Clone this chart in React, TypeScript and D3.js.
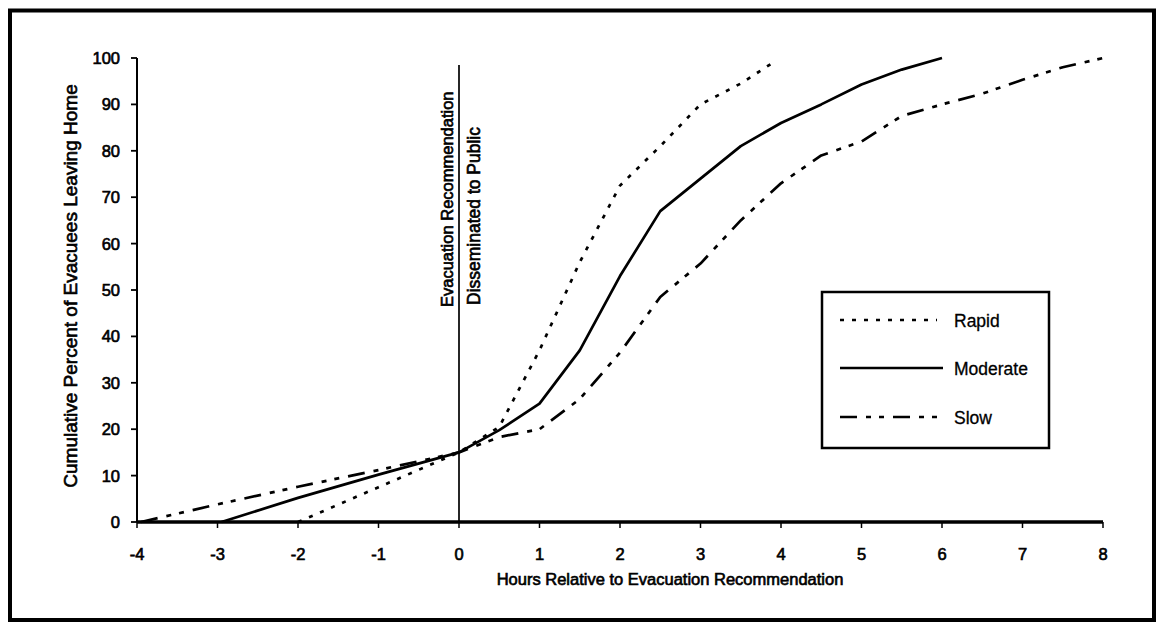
import React from "react";
import * as d3 from "d3";

const xTicks = [-4, -3, -2, -1, 0, 1, 2, 3, 4, 5, 6, 7, 8];
const yTicks = [0, 10, 20, 30, 40, 50, 60, 70, 80, 90, 100];

const rapidHours = [-2, -1, 0, 0.5, 1, 1.5, 2, 2.5, 3, 3.5, 3.9];
const rapidValues = [0, 7.5, 15, 20.5, 37, 56, 72.5, 81, 90, 94.5, 99];

const moderateHours = [-2.95, -2, -1, 0, 0.5, 1, 1.5, 2, 2.5, 3, 3.5, 4, 4.5, 5, 5.5, 6];
const moderateValues = [0, 5.2, 10.2, 15, 19.8, 25.5, 37, 53, 67, 74, 81, 86, 90, 94.3, 97.5, 100];

const slowHours = [-3.95, -3, -2, -1, 0, 0.5, 1, 1.5, 2, 2.5, 3, 3.5, 4, 4.5, 5, 5.5, 6, 6.5, 7, 7.5, 8];
const slowValues = [0, 3.8, 7.6, 11.2, 15, 18.3, 20, 26.5, 36.5, 48.5, 55.7, 65, 73, 79, 82, 87.5, 90, 92.3, 95.3, 98, 100];

const seriesNames = ["Rapid", "Moderate", "Slow"];
const xTitle = "Hours Relative to Evacuation Recommendation";
const yTitle = "Cumulative Percent of Evacuees Leaving Home";
const noteLine1 = "Evacuation Recommendation";
const noteLine2 = "Disseminated to Public";

const W = 1158;
const H = 622;
const FONT = "'Liberation Sans', Arial, Helvetica, sans-serif";

const dashes: Record<string, string | undefined> = {
  Rapid: "4 8",
  Moderate: undefined,
  Slow: "17 9 5 8 5 9",
};

export default function App() {
  const x = d3.scaleLinear().domain([-4, 8]).range([137, 1103]);
  const y = d3.scaleLinear().domain([0, 100]).range([522, 58]);
  const line = d3
    .line<[number, number]>()
    .x((d) => x(d[0]))
    .y((d) => y(d[1]));

  const zip = (hs: number[], vs: number[]) => hs.map((h, i) => [h, vs[i]] as [number, number]);
  const series = [
    { name: "Rapid", data: zip(rapidHours, rapidValues) },
    { name: "Moderate", data: zip(moderateHours, moderateValues) },
    { name: "Slow", data: zip(slowHours, slowValues) },
  ];

  const textStyle = { fontFamily: FONT, fill: "#000", stroke: "#000", strokeWidth: 0.65 };

  const legendX = 822;
  const legendY = 292;
  const legendRows = [320, 368, 417];

  return (
    <svg
      width={W}
      height={H}
      viewBox={`0 0 ${W} ${H}`}
      style={{ position: "absolute", left: 0, top: 0, background: "#fff" }}
    >
      <rect x={0} y={0} width={W} height={H} fill="#fff" />
      {/* outer frame */}
      <rect x={10} y={10.5} width={1144} height={609.5} fill="none" stroke="#000" strokeWidth={4} />

      {/* curves */}
      {series.map((s) => (
        <path
          key={s.name}
          d={line(s.data) || ""}
          fill="none"
          stroke="#000"
          strokeWidth={2.7}
          strokeDasharray={dashes[s.name]}
          strokeLinecap="butt"
          strokeLinejoin="round"
        />
      ))}

      {/* vertical recommendation line */}
      <line x1={x(0)} x2={x(0)} y1={y(98.5)} y2={y(0)} stroke="#000" strokeWidth={1.7} />
      <text transform={`translate(453,307) rotate(-90)`} fontSize={16.5} style={textStyle}>
        {noteLine1}
      </text>
      <text transform={`translate(480,305) rotate(-90)`} fontSize={17.5} style={textStyle}>
        {noteLine2}
      </text>

      {/* y axis */}
      <line x1={x(-4)} x2={x(-4)} y1={y(100)} y2={y(0)} stroke="#000" strokeWidth={2} />
      {yTicks.map((t) => (
        <g key={`y${t}`}>
          <line x1={x(-4) - 6} x2={x(-4)} y1={y(t)} y2={y(t)} stroke="#000" strokeWidth={1.8} />
          <text x={120} y={y(t) + 6} textAnchor="end" fontSize={16.5} style={textStyle}>
            {t}
          </text>
        </g>
      ))}

      {/* x axis */}
      <line x1={x(-4)} x2={x(8)} y1={y(0)} y2={y(0)} stroke="#000" strokeWidth={3.5} />
      {xTicks.map((t) => (
        <g key={`x${t}`}>
          <line x1={x(t)} x2={x(t)} y1={y(0)} y2={y(0) + 6} stroke="#000" strokeWidth={1.5} />
          <text x={x(t)} y={560} textAnchor="middle" fontSize={16.5} style={textStyle}>
            {t}
          </text>
        </g>
      ))}

      {/* axis titles */}
      <text x={670} y={585} textAnchor="middle" fontSize={16.5} style={textStyle}>
        {xTitle}
      </text>
      <text transform={`translate(77,286) rotate(-90)`} textAnchor="middle" fontSize={19} style={textStyle}>
        {yTitle}
      </text>

      {/* legend */}
      <rect x={legendX} y={legendY} width={227} height={156} fill="#fff" stroke="#000" strokeWidth={2.5} />
      {seriesNames.map((n, i) => (
        <g key={n}>
          <line
            x1={840}
            x2={n === "Moderate" ? 943 : 937}
            y1={legendRows[i]}
            y2={legendRows[i]}
            stroke="#000"
            strokeWidth={2.7}
            strokeDasharray={dashes[n]}
          />
          <text
            x={954}
            y={legendRows[i] + 7}
            fontSize={17.5}
            style={{ fontFamily: FONT, fill: "#000", stroke: "#000", strokeWidth: 0.3 }}
          >
            {n}
          </text>
        </g>
      ))}
    </svg>
  );
}
